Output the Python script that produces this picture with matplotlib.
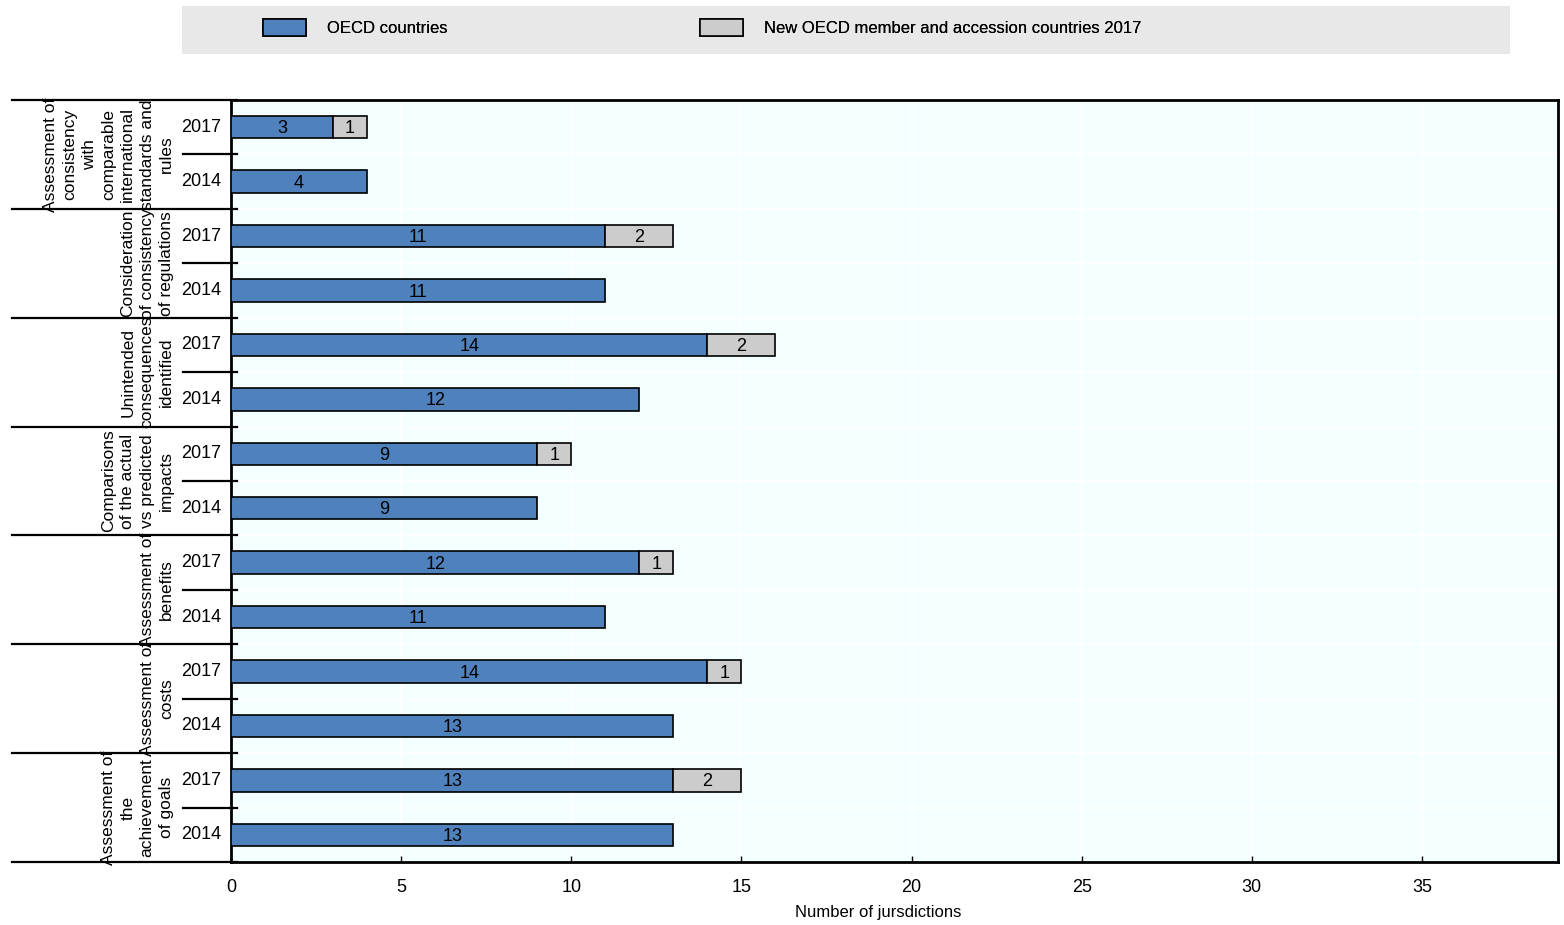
import matplotlib
matplotlib.use("Agg")
import matplotlib.pyplot as plt
from matplotlib.patches import Rectangle, Patch
import matplotlib.transforms as mtransforms
import numpy as np

plt.rcParams['font.family'] = ['Liberation Sans', 'DejaVu Sans']

groups = [
    "Assessment of\nconsistency\nwith\ncomparable\ninternational\nstandards and\nrules",
    "Consideration\nof consistency\nof regulations",
    "Unintended\nconsequences\nidentified",
    "Comparisons\nof the actual\nvs predicted\nimpacts",
    "Assessment of\nbenefits",
    "Assessment of\ncosts",
    "Assessment of\nthe\nachievement\nof goals",
]
years = ["2017", "2014"]
oecd_2017 = [3, 11, 14, 9, 12, 14, 13]
new_2017 = [1, 2, 2, 1, 1, 1, 2]
oecd_2014 = [4, 11, 12, 9, 11, 13, 13]
new_2014 = [0, 0, 0, 0, 0, 0, 0]

legend_labels = ["OECD countries", "New OECD member and accession countries 2017"]
xticks = [0, 5, 10, 15, 20, 25, 30, 35]
xlabel = "Number of jursdictions"

BLUE = "#4f81bd"
GREY = "#cccccc"
BG = "#f4ffff"
FS = 13
GFS = 12.5

fig = plt.figure(figsize=(15.64, 9.25), dpi=100)
W, H = 1564, 925
ax = fig.add_axes([231 / W, 1 - 862 / H, (1558 - 231) / W, (862 - 100) / H])
ax.set_facecolor(BG)

# build rows top to bottom
oecd_vals, new_vals, row_years = [], [], []
for g in range(len(groups)):
    oecd_vals += [oecd_2017[g], oecd_2014[g]]
    new_vals += [new_2017[g], new_2014[g]]
    row_years += years
n = len(oecd_vals)
ypos = np.arange(n)
bh = 0.41

b1 = ax.barh(ypos, oecd_vals, height=bh, color=BLUE, edgecolor="black", linewidth=1.2, zorder=3)
b2 = ax.barh(ypos, new_vals, left=oecd_vals, height=bh, color=GREY, edgecolor="black", linewidth=1.2, zorder=3)
for i in range(n):
    if new_vals[i] == 0:
        b2[i].set_visible(False)

for i in range(n):
    ax.text(oecd_vals[i] / 2, ypos[i] + 0.03, str(oecd_vals[i]), ha="center", va="center",
            fontsize=FS, color="black", zorder=4)
    if new_vals[i] > 0:
        ax.text(oecd_vals[i] + new_vals[i] / 2, ypos[i] + 0.03, str(new_vals[i]), ha="center",
                va="center", fontsize=FS, color="black", zorder=4)

ax.set_ylim(n - 0.5, -0.5)
ax.set_xlim(0, 39.0)
ax.set_xticks(xticks)
ax.set_xticklabels([str(t) for t in xticks], fontsize=FS)
ax.tick_params(axis="x", direction="in", length=4, width=1, pad=12)
ax.set_yticks([])
ax.set_xlabel(xlabel, fontsize=12)
ax.xaxis.set_label_coords((878 - 231) / 1327, -(913 - 862) / 762)
ax.xaxis.label.set_va("center")

# white grid
for t in xticks[1:]:
    ax.axvline(t, color="white", lw=1.2, zorder=1)
for b in np.arange(0.5, n - 0.5, 1.0):
    ax.axhline(b, color="white", lw=1.2, zorder=1)

for s in ["left", "bottom", "top", "right"]:
    ax.spines[s].set_linewidth(2)
    ax.spines[s].set_color("black")

trans = mtransforms.blended_transform_factory(ax.transAxes, ax.transData)
x_long = (12 - 231) / 1327
x_short = (183 - 231) / 1327
x_end = (237 - 231) / 1327
for b in np.arange(-0.5, n + 0.5, 1.0):
    idx = int(round(b + 0.5))
    if idx % 2 == 0:
        ax.plot([x_long, x_end], [b, b], color="black", lw=1.6, transform=trans, clip_on=False, zorder=5)
    else:
        ax.plot([x_short, x_end], [b, b], color="black", lw=1.6, transform=trans, clip_on=False, zorder=5)

for i in range(n):
    ax.text((221 - 231) / 1327, ypos[i], row_years[i], ha="right", va="center",
            fontsize=FS, transform=trans)

for g, lab in enumerate(groups):
    ax.text((174 - 231) / 1327, 2 * g + 0.5, lab, rotation=90, ha="right", va="center",
            multialignment="center", fontsize=GFS, linespacing=1.36, transform=trans)

# legend background
fig.add_artist(Rectangle((182 / W, 1 - 54 / H), (1510 - 182) / W, 48 / H,
                         transform=fig.transFigure, facecolor="#e8e8e8", edgecolor="none", zorder=0))
handles = [Patch(facecolor=BLUE, edgecolor="black", linewidth=1.2),
           Patch(facecolor=GREY, edgecolor="black", linewidth=1.2)]
lfs = 12
for h, lab, x0 in zip(handles, legend_labels, [263, 700]):
    leg = fig.legend([h], [lab], loc="center left", bbox_to_anchor=(x0 / W, 1 - 27.5 / H),
                     frameon=False, fontsize=lfs, borderpad=0, borderaxespad=0,
                     handlelength=43 / (lfs * 100 / 72), handleheight=21 / (lfs * 100 / 72),
                     handletextpad=21 / (lfs * 100 / 72))
    fig.add_artist(leg)

fig.savefig("out.png", dpi=100)
